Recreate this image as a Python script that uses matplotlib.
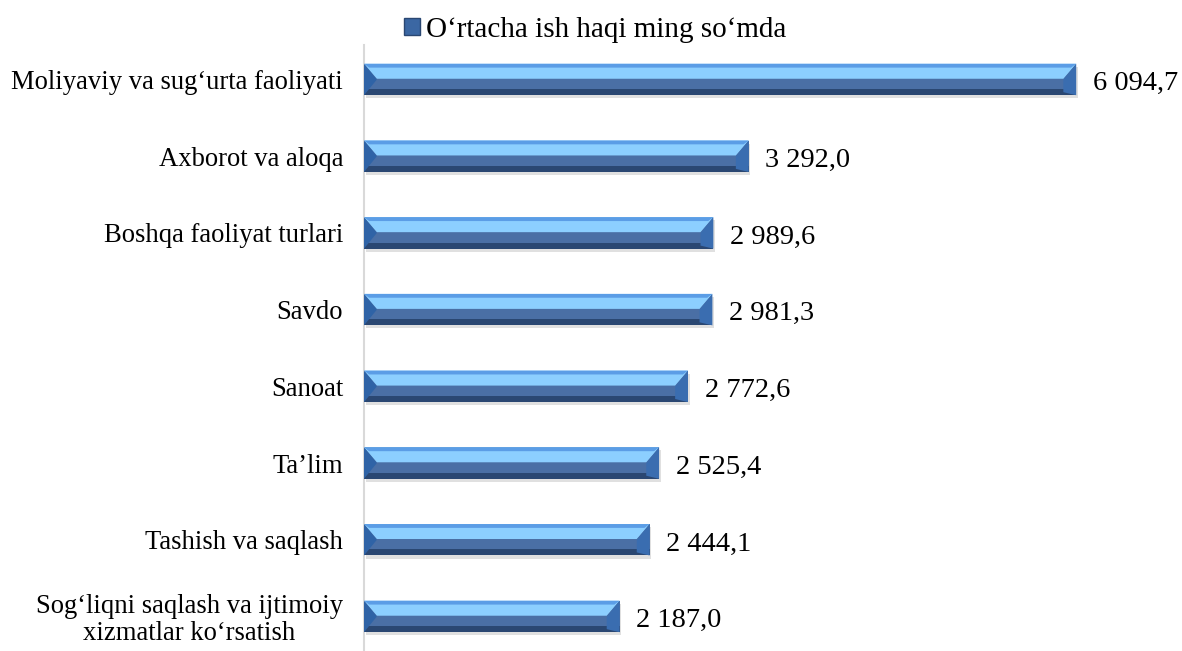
import matplotlib
matplotlib.use('Agg')
from matplotlib import pyplot as plt
from matplotlib.patches import Polygon, Patch
import numpy as np

plt.rcParams['font.family'] = ['Liberation Serif', 'DejaVu Serif']

categories = ["Moliyaviy va sug\u2018urta faoliyati",
              "Axborot va aloqa",
              "Boshqa faoliyat turlari",
              "Savdo",
              "Sanoat",
              "Ta\u2019lim",
              "Tashish va saqlash",
              "Sog\u2018liqni saqlash va ijtimoiy\nxizmatlar ko\u2018rsatish"]
values = [6094.7, 3292.0, 2989.6, 2981.3, 2772.6, 2525.4, 2444.1, 2187.0]
value_labels = ["6 094,7", "3 292,0", "2 989,6", "2 981,3",
                "2 772,6", "2 525,4", "2 444,1", "2 187,0"]
series_name = "O\u2018rtacha ish haqi ming so\u2018mda"

fig = plt.figure(figsize=(11.82, 6.51), dpi=100)
ax = fig.add_axes([364/1182, 0.0, 1 - 364/1182, 1 - 45/651])

y = np.arange(len(values))
h = 0.41
bev = 110  # bevel width in data units

# soft shadow
ax.barh(y + 0.04, values, height=h, left=15, color='#000000', alpha=0.12, zorder=1)
# lower (dark) face
ax.barh(y, values, height=h, color='#4a6fa5', zorder=2)
# bottom edge
ax.barh(y + h/2 - 0.04, values, height=0.08, color='#2a4772', zorder=3)
for yi, v in zip(y, values):
    top = yi - h/2
    mid = yi
    bot = yi + h/2
    # upper light band with left diagonal
    ax.add_patch(Polygon([(0, top), (v, top), (v - bev, mid - 0.01),
                          (bev, mid - 0.01)], closed=True,
                         facecolor='#8ccfff', edgecolor='none', zorder=4))
    ax.add_patch(Polygon([(0, top), (v, top), (v - bev*0.4, top + 0.05),
                          (bev*0.4, top + 0.05)], closed=True,
                         facecolor='#5b9de6', edgecolor='none', zorder=5))
    # left bevel
    ax.add_patch(Polygon([(0, top), (bev, mid), (0, bot)], closed=True,
                         facecolor='#2f63a6', edgecolor='none', zorder=6))
    # right bevel
    ax.add_patch(Polygon([(v, top), (v - bev, mid), (v - bev, bot - 0.04), (v, bot)],
                         closed=True, facecolor='#3a6db0', edgecolor='none', zorder=6))
    ax.annotate(value_labels[yi], (v, yi), xytext=(12, -3), textcoords='offset points',
                ha='left', va='center', fontsize=20.5)

ax.set_xlim(0, 7000)
ax.set_ylim(len(values) - 0.55, -0.45)
ax.set_yticks(y)
ax.set_yticklabels(categories, fontsize=19.2, ha='right', multialignment='center',
                   linespacing=1.1)
ax.tick_params(axis='y', length=0, pad=15)
ax.set_xticks([])
for s in ['top', 'right', 'bottom']:
    ax.spines[s].set_visible(False)
ax.spines['left'].set_color('#d9d9d9')
ax.spines['left'].set_linewidth(1.5)

fig.legend(handles=[Patch(facecolor='#3b67a3', edgecolor='#2a4772', label=series_name)],
           loc='center', bbox_to_anchor=(595/1182, 1 - 30/651), frameon=False,
           fontsize=21, handlelength=0.55, handleheight=0.55, handletextpad=0.2)

fig.savefig('out.png', dpi=100)
